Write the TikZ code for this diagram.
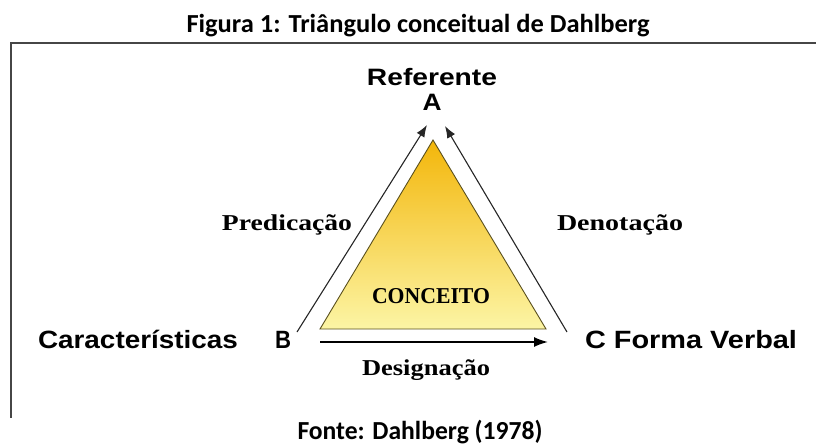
\documentclass[tikz,border=0pt]{standalone}
\usepackage{fontspec}
\usepackage{graphicx}
\setmainfont{Liberation Serif}
\newfontfamily\carfont{Carlito}
\newfontfamily\arfont{Liberation Sans}
\usetikzlibrary{arrows.meta}
\definecolor{trtop}{RGB}{243,182,10}
\definecolor{trbot}{RGB}{252,245,165}
\definecolor{trline}{RGB}{90,80,30}
\definecolor{framec}{RGB}{70,70,70}
\begin{document}
\begin{tikzpicture}[x=1pt,y=-1pt,
  lbl/.style={inner sep=0pt, outer sep=0pt},
  frameline/.style={line width=2pt, draw=framec},
  arr/.style={draw=black!85, line width=1.1pt, -{Latex[length=12pt,width=9pt]}},
  barr/.style={draw=black, line width=1.7pt, -{Latex[length=14pt,width=10pt]}},
  capt/.style={lbl, font=\carfont\bfseries\fontsize{26}{30}\selectfont},
  sbold/.style={lbl, font=\arfont\bfseries\fontsize{23.7}{28}\selectfont},
  sreg/.style={lbl, font=\arfont\bfseries\fontsize{25}{30}\selectfont},
  serb/.style={lbl, font=\bfseries\fontsize{22.7}{27}\selectfont}]
\useasboundingbox (0,0) rectangle (816,447);
% caption and source
\node[capt, anchor=base] (title) at (418,32) {\resizebox{463pt}{\height}{Figura 1: Triângulo conceitual de Dahlberg}};
\node[capt, anchor=base] (fonte) at (420,439) {\resizebox{245pt}{\height}{Fonte: Dahlberg (1978)}};
% frame
\coordinate (ftl) at (11,43);
\coordinate (ftr) at (816,43);
\coordinate (fbl) at (11,418);
\draw[frameline] (ftr) -- (ftl) -- (fbl);
% triangle
\coordinate (apex) at (433,140);
\coordinate (tbl) at (320,329);
\coordinate (tbr) at (546,329);
\path[draw=trline, line width=0.9pt, top color=trtop, bottom color=trbot] (apex) -- (tbl) -- (tbr) -- cycle;
\node[serb, anchor=base] (conceito) at (431,303) {\resizebox{118pt}{\height}{CONCEITO}};
% vertex labels
\node[sbold, anchor=base] (ref) at (432,85) {\resizebox{130pt}{\height}{Referente}};
\node[sbold, anchor=base] (A) at (432,110) {\resizebox{19pt}{\height}{A}};
\node[sreg, anchor=base] (B) at (283,348) {\resizebox{16pt}{\height}{B}};
\node[sreg, anchor=base west] (car) at (38,348) {\resizebox{200pt}{\height}{Características}};
\node[sreg, anchor=base west] (C) at (585,348) {\resizebox{212pt}{\height}{C Forma Verbal}};
% relation labels
\node[serb, anchor=base east] (pred) at (352,230) {\resizebox{130pt}{\height}{Predicação}};
\node[serb, anchor=base west] (deno) at (557,230) {\resizebox{126pt}{\height}{Denotação}};
\node[serb, anchor=base] (desig) at (426,375) {\resizebox{128pt}{\height}{Designação}};
% arrows
\coordinate (pl0) at (297,332);
\coordinate (pl1) at (427,125);
\coordinate (pr0) at (567,332);
\coordinate (pr1) at (445,126);
\coordinate (bb0) at (320,342);
\coordinate (bb1) at (548,342);
\draw[arr] (pl0) -- (pl1);
\draw[arr] (pr0) -- (pr1);
\draw[barr] (bb0) -- (bb1);
\end{tikzpicture}
\end{document}
